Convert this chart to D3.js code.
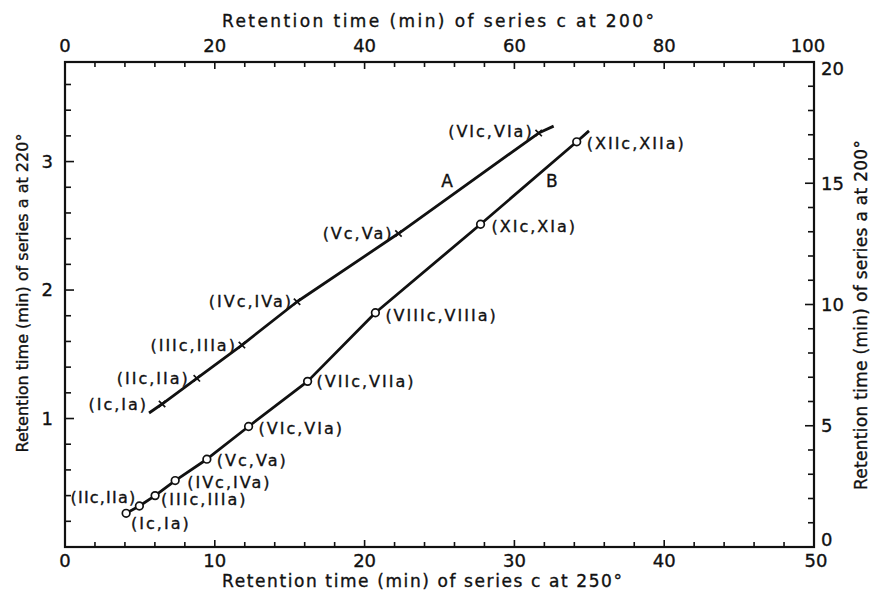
<!DOCTYPE html>
<html lang="en">
<head>
  <meta charset="UTF-8" />
  <title>Retention time plot</title>
  <style>
    body { margin: 0; background: #fff; }
    svg { display: block; font-family: "DejaVu Sans", sans-serif; }
    text { fill: #111; stroke: #111; stroke-width: 0.35; }
  </style>
</head>
<body>
  <div id="chart"></div>

  <script src="https://d3js.org/d3.v7.min.js"></script>
  <script>
    // series A: c at 250 deg (bottom axis) vs a at 220 deg (left axis)
    const labelsA = ["(Ic,Ia)", "(IIc,IIa)", "(IIIc,IIIa)", "(IVc,IVa)", "(Vc,Va)", "(VIc,VIa)"];
    const aC250 = [6.48, 8.80, 11.81, 15.49, 22.26, 31.62];
    const aA220 = [1.113, 1.313, 1.572, 1.909, 2.440, 3.222];
    const lineAEnds = [[5.61, 1.043], [32.62, 3.276]];

    // series B: c at 200 deg (top axis) vs a at 200 deg (right axis)
    const labelsB = ["(Ic,Ia)", "(IIc,IIa)", "(IIIc,IIIa)", "(IVc,IVa)", "(Vc,Va)", "(VIc,VIa)",
                     "(VIIc,VIIa)", "(VIIIc,VIIIa)", "(XIc,XIa)", "(XIIc,XIIa)"];
    const bC200 = [8.16, 9.93, 12.03, 14.71, 18.94, 24.51, 32.39, 41.44, 55.48, 68.32];
    const bA200 = [1.39, 1.69, 2.12, 2.74, 3.62, 4.97, 6.83, 9.66, 13.31, 16.71];
    const lineBEnds = [[7.75, 1.32], [69.96, 17.16]];

    const bottomTicks = [0, 10, 20, 30, 40, 50];
    const topTicks = [0, 20, 40, 60, 80, 100];
    const leftTicks = [1, 2, 3];
    const rightTicks = [0, 5, 10, 15, 20];

    // label placement (dx, dy from marker, anchor, letter spacing)
    const placeA = [[-14, 0, "end", 2], [-7, 0, "end", 2], [-5, 0, "end", 2], [-4, 0, "end", 2], [-5, 0, "end", 2], [-5, -2, "end", 2]];
    const placeB = [[5, 10, "start", 2], [-3, -9, "end", 1.2], [6, 4, "start", 2], [12, 2, "start", 2], [10, 1, "start", 2],
                    [10, 2, "start", 2], [9, 0, "start", 2], [10, 3, "start", 2], [11, 2, "start", 2], [10, 2, "start", 2]];

    const W = 873, H = 591;
    const L = 65, R = 814, T = 62, B = 547;

    const x = d3.scaleLinear().domain([0, 50]).range([L, R]);
    const xTop = d3.scaleLinear().domain([0, 100]).range([L, R]);
    const yL = d3.scaleLinear().domain([0, 3.775]).range([B, T]);
    const yR = d3.scaleLinear().domain([0, 20]).range([B, T]);

    const svg = d3.select("#chart").append("svg").attr("width", W).attr("height", H);

    // frame
    svg.append("rect")
      .attr("x", L).attr("y", T).attr("width", R - L).attr("height", B - T)
      .attr("fill", "none").attr("stroke", "#111").attr("stroke-width", 2.2);

    // inward ticks
    const tk = svg.append("g").attr("stroke", "#111").attr("stroke-width", 1.6);
    d3.range(0, 50.01, 2).forEach(v => {
      const len = v % 10 === 0 ? 7 : 5;
      tk.append("line").attr("x1", x(v)).attr("x2", x(v)).attr("y1", B).attr("y2", B - len);
    });
    d3.range(0, 100.01, 4).forEach(v => {
      const len = v % 20 === 0 ? 7 : 5;
      tk.append("line").attr("x1", xTop(v)).attr("x2", xTop(v)).attr("y1", T).attr("y2", T + len);
    });
    d3.range(0, 3.7, 0.2).forEach(v => {
      const len = Math.abs(v - Math.round(v)) < 1e-6 ? 9 : 6;
      tk.append("line").attr("x1", L).attr("x2", L + len).attr("y1", yL(v)).attr("y2", yL(v));
    });
    d3.range(0, 20.01, 1).forEach(v => {
      const len = v % 5 === 0 ? 9 : 6;
      tk.append("line").attr("x1", R).attr("x2", R - len).attr("y1", yR(v)).attr("y2", yR(v));
    });

    // tick labels
    const tl = svg.append("g").attr("font-size", 18);
    tl.selectAll(".tb").data(bottomTicks).enter().append("text")
      .attr("x", d => x(d) + (d === 50 ? 2 : 0)).attr("y", 567).attr("text-anchor", "middle").text(d => d);
    tl.selectAll(".tt").data(topTicks).enter().append("text")
      .attr("x", d => xTop(d) - (d === 100 ? 6 : 0)).attr("y", 52).attr("text-anchor", "middle").text(d => d);
    tl.selectAll(".tl").data(leftTicks).enter().append("text")
      .attr("x", 53).attr("y", d => yL(d)).attr("dy", "0.35em").attr("text-anchor", "end").text(d => d);
    tl.selectAll(".tr").data(rightTicks).enter().append("text")
      .attr("x", 821)
      .attr("y", d => yR(d) + (d === 20 ? 7 : d === 0 ? -7 : 0))
      .attr("dy", "0.35em").text(d => d);

    // axis titles
    const tt = svg.append("g").attr("font-size", 17).attr("text-anchor", "middle");
    tt.append("text").attr("x", 438).attr("y", 27).attr("textLength", 432).attr("lengthAdjust", "spacing")
      .text("Retention time (min) of series c at 200°");
    tt.append("text").attr("x", 422).attr("y", 587).attr("textLength", 400).attr("lengthAdjust", "spacing")
      .text("Retention time (min) of series c at 250°");
    tt.append("text").attr("transform", "translate(28,293) rotate(-90)").attr("font-size", 16)
      .text("Retention time (min) of series a at 220°");
    tt.append("text").attr("transform", "translate(867,315) rotate(-90)").attr("textLength", 350).attr("lengthAdjust", "spacing")
      .text("Retention time (min) of series a at 200°");

    const ptsA = aC250.map((v, i) => [v, aA220[i]]);
    const ptsB = bC200.map((v, i) => [v, bA200[i]]);

    const lineA = d3.line().x(d => x(d[0])).y(d => yL(d[1]));
    const lineB = d3.line().x(d => xTop(d[0])).y(d => yR(d[1]));

    svg.append("path").attr("d", lineA([lineAEnds[0], ...ptsA, lineAEnds[1]]))
      .attr("fill", "none").attr("stroke", "#111").attr("stroke-width", 2.8).attr("stroke-linejoin", "round");
    svg.append("path").attr("d", lineB([lineBEnds[0], ...ptsB, lineBEnds[1]]))
      .attr("fill", "none").attr("stroke", "#111").attr("stroke-width", 2.8).attr("stroke-linejoin", "round");

    // markers
    const s = 3.2;
    svg.append("g").selectAll("path").data(ptsA).enter().append("path")
      .attr("d", d => {
        const cx = x(d[0]), cy = yL(d[1]);
        return `M${cx - s},${cy - s}L${cx + s},${cy + s}M${cx - s},${cy + s}L${cx + s},${cy - s}`;
      })
      .attr("stroke", "#111").attr("stroke-width", 1.7);
    svg.append("g").selectAll("circle").data(ptsB).enter().append("circle")
      .attr("cx", d => xTop(d[0])).attr("cy", d => yR(d[1])).attr("r", 3.8)
      .attr("fill", "#fff").attr("stroke", "#111").attr("stroke-width", 1.7);

    // point labels
    const lab = svg.append("g").attr("font-size", 16);
    lab.selectAll(".la").data(ptsA).enter().append("text")
      .attr("x", (d, i) => x(d[0]) + placeA[i][0])
      .attr("y", (d, i) => yL(d[1]) + placeA[i][1])
      .attr("dy", "0.35em").attr("text-anchor", (d, i) => placeA[i][2])
      .attr("letter-spacing", (d, i) => placeA[i][3])
      .text((d, i) => labelsA[i]);
    lab.selectAll(".lb").data(ptsB).enter().append("text")
      .attr("x", (d, i) => xTop(d[0]) + placeB[i][0])
      .attr("y", (d, i) => yR(d[1]) + placeB[i][1])
      .attr("dy", "0.35em").attr("text-anchor", (d, i) => placeB[i][2])
      .attr("letter-spacing", (d, i) => placeB[i][3])
      .text((d, i) => labelsB[i]);

    // curve names
    svg.append("text").attr("x", x(25.5)).attr("y", yL(2.85)).attr("font-size", 17)
      .attr("text-anchor", "middle").attr("dy", "0.35em").text("A");
    svg.append("text").attr("x", xTop(65)).attr("y", yR(15.1)).attr("font-size", 17)
      .attr("text-anchor", "middle").attr("dy", "0.35em").text("B");
  </script>
</body>
</html>
